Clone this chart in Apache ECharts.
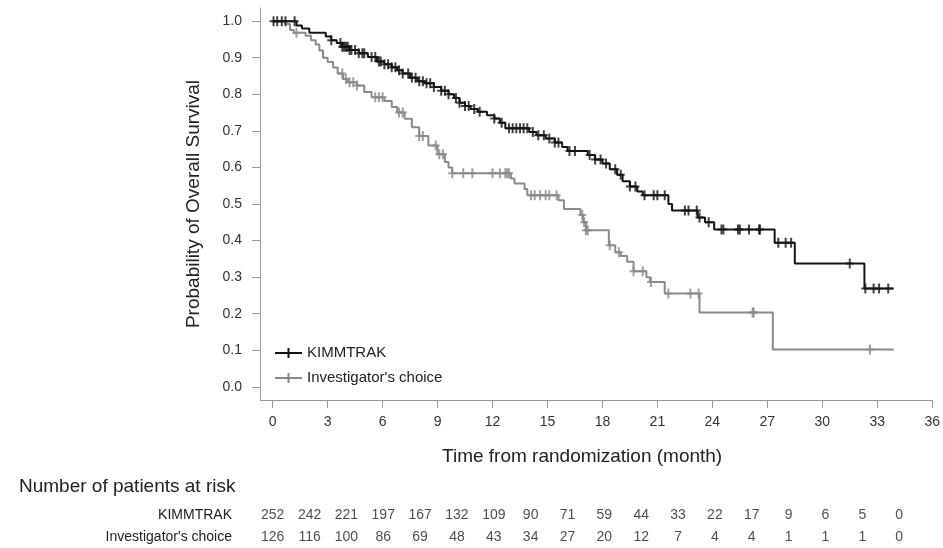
<!DOCTYPE html>
<html>
<head>
<meta charset="utf-8">
<script src="https://cdn.jsdelivr.net/npm/echarts@6/dist/echarts.min.js"></script>
<style>html,body{margin:0;padding:0;background:#fff}#c{width:943px;height:548px}</style>
</head>
<body>
<div id="c"></div>
<script>
// Kaplan-Meier step points (time in months, survival after the step)
const kimTime = [0, 1.3, 1.6, 2.0, 2.9, 3.2, 3.5, 3.8, 4.2, 4.7, 5.2, 5.7, 6.1, 6.5, 6.8, 7.1, 7.5, 7.9, 8.3, 8.8, 9.2, 9.6, 9.9, 10.2, 10.5, 10.8, 11.2, 11.7, 12.1, 12.4, 12.7, 14.0, 14.4, 14.9, 15.4, 15.8, 16.1, 17.2, 17.6, 18.0, 18.4, 18.8, 19.1, 19.5, 19.9, 20.2, 21.6, 21.8, 23.2, 23.6, 24.1, 27.4, 28.5, 32.3, 33.9];
const kimSurv = [1.0, 0.988, 0.980, 0.968, 0.958, 0.948, 0.940, 0.930, 0.921, 0.912, 0.902, 0.890, 0.882, 0.874, 0.866, 0.857, 0.845, 0.836, 0.830, 0.820, 0.810, 0.800, 0.790, 0.777, 0.768, 0.760, 0.752, 0.743, 0.734, 0.722, 0.707, 0.697, 0.688, 0.679, 0.668, 0.656, 0.645, 0.634, 0.622, 0.611, 0.595, 0.580, 0.562, 0.548, 0.534, 0.524, 0.500, 0.482, 0.463, 0.450, 0.430, 0.394, 0.337, 0.269, 0.269];
const icTime = [0, 0.7, 0.95, 1.15, 1.8, 2.1, 2.35, 2.55, 2.75, 3.0, 3.3, 3.55, 3.85, 4.1, 4.6, 5.0, 5.4, 6.1, 6.5, 6.8, 7.2, 7.6, 8.0, 8.5, 9.0, 9.4, 9.6, 9.8, 13.0, 13.2, 13.75, 13.9, 15.6, 15.9, 16.8, 16.95, 17.1, 18.35, 18.7, 19.0, 19.35, 19.7, 20.4, 20.6, 21.4, 23.3, 27.3, 33.9];
const icSurv = [1.0, 0.992, 0.976, 0.968, 0.960, 0.948, 0.936, 0.920, 0.900, 0.888, 0.873, 0.857, 0.842, 0.833, 0.824, 0.806, 0.792, 0.782, 0.765, 0.750, 0.733, 0.710, 0.686, 0.660, 0.636, 0.615, 0.600, 0.584, 0.570, 0.556, 0.541, 0.524, 0.510, 0.486, 0.470, 0.450, 0.428, 0.387, 0.368, 0.358, 0.342, 0.316, 0.300, 0.287, 0.255, 0.203, 0.102, 0.102];
// censoring times
const kimCensor = [0.05, 0.25, 0.5, 0.7, 1.2, 3.2, 3.7, 3.8, 3.9, 4.0, 4.1, 4.2, 4.3, 4.5, 4.7, 4.9, 5.0, 5.4, 5.6, 5.8, 5.9, 6.1, 6.3, 6.5, 6.7, 6.9, 7.1, 7.4, 7.6, 7.8, 8.0, 8.2, 8.4, 8.6, 8.8, 9.2, 9.4, 9.6, 10.0, 10.2, 10.5, 10.7, 11.0, 11.3, 12.1, 12.5, 12.9, 13.1, 13.3, 13.5, 13.7, 13.9, 14.2, 14.5, 14.8, 15.1, 15.4, 15.6, 16.2, 16.5, 17.3, 17.6, 17.9, 18.2, 18.7, 19.0, 19.5, 19.8, 20.3, 20.8, 21.0, 21.4, 22.5, 22.7, 23.15, 23.3, 23.8, 24.5, 24.6, 25.4, 25.5, 26.0, 26.55, 26.6, 27.6, 28.0, 28.3, 31.5, 32.35, 32.8, 33.1, 33.6];
const icCensor = [1.3, 3.8, 4.0, 4.2, 4.4, 4.6, 5.6, 5.8, 6.0, 6.9, 7.1, 8.0, 8.2, 8.9, 9.1, 9.3, 9.8, 10.4, 10.9, 12.0, 12.4, 12.7, 12.8, 12.9, 14.1, 14.3, 14.6, 14.9, 15.1, 15.5, 16.9, 17.0, 17.1, 17.2, 18.4, 18.9, 19.7, 20.2, 20.65, 21.6, 22.8, 23.25, 26.2, 26.25, 32.6];
// number at risk
const riskTimes = [0, 2, 4, 6, 8, 10, 12, 14, 16, 18, 20, 22, 24, 26, 28, 30, 32, 34];
const kimRisk = [252, 242, 221, 197, 167, 132, 109, 90, 71, 59, 44, 33, 22, 17, 9, 6, 5, 0];
const icRisk = [126, 116, 100, 86, 69, 48, 43, 34, 27, 20, 12, 7, 4, 4, 1, 1, 1, 0];
const xTicks = [0, 3, 6, 9, 12, 15, 18, 21, 24, 27, 30, 33, 36];
const yTicks = [0, 0.1, 0.2, 0.3, 0.4, 0.5, 0.6, 0.7, 0.8, 0.9, 1.0];
const groups = ['KIMMTRAK', "Investigator's choice"];

const FONT = "'Liberation Sans', Arial, sans-serif";
const BLACK = '#141414', GRAY = '#8a8a8a';
const plus = 'path://M0,4h10v2h-10z M3.75,0h2.5v10h-2.5z';
const legendIcon = 'path://M0,4h27v2h-27z M12.5,0h2v10h-2z';

function survAt(times, surv, t) {
  let s = surv[0];
  for (let i = 0; i < times.length; i++) { if (times[i] <= t) s = surv[i]; }
  return s;
}
const zip = (a, b) => a.map((v, i) => [v, b[i]]);

const chart = echarts.init(document.getElementById('c'), null, {renderer: 'canvas'});
chart.setOption({
  animation: false,
  backgroundColor: '#fff',
  textStyle: {fontFamily: FONT},
  title: {
    text: 'Number of patients at risk', left: 14, top: 472,
    textStyle: {fontSize: 19, fontWeight: 'normal', color: '#222', fontFamily: FONT}
  },
  legend: {
    orient: 'vertical', left: 270, top: 340, itemWidth: 27, itemHeight: 10, itemGap: 9,
    data: [{name: groups[0], icon: legendIcon}, {name: groups[1], icon: legendIcon}],
    textStyle: {fontSize: 15, color: '#222', fontFamily: FONT, lineHeight: 16}
  },
  grid: [
    {left: 260, right: 7, top: 8, bottom: 148, containLabel: false},
    {left: 260, right: 7, top: 504, height: 44, containLabel: false}
  ],
  xAxis: [{
    type: 'value', gridIndex: 0, min: -0.69, max: 36,
    name: 'Time from randomization (month)', nameLocation: 'middle', nameGap: 47,
    nameTextStyle: {fontSize: 19, color: '#222', fontFamily: FONT, padding: [0, 28, 0, 0]},
    axisLine: {show: true, onZero: false, lineStyle: {color: '#999', width: 1}},
    axisTick: {show: true, length: 8, customValues: xTicks, lineStyle: {color: '#999'}},
    axisLabel: {customValues: xTicks, fontSize: 14, color: '#333', margin: 15, fontFamily: FONT},
    splitLine: {show: false}
  }, {
    type: 'value', gridIndex: 1, min: -0.69, max: 36, show: false
  }],
  yAxis: [{
    type: 'value', gridIndex: 0, min: -0.036, max: 1.036,
    name: 'Probability of Overall Survival', nameLocation: 'middle', nameGap: 57,
    nameTextStyle: {fontSize: 19, color: '#222', fontFamily: FONT},
    axisLine: {show: true, onZero: false, lineStyle: {color: '#999', width: 1}},
    axisTick: {show: true, length: 8, customValues: yTicks, lineStyle: {color: '#999'}},
    axisLabel: {customValues: yTicks, fontSize: 14, color: '#333', margin: 18, fontFamily: FONT,
      formatter: v => v.toFixed(1)},
    splitLine: {show: false}
  }, {
    type: 'category', gridIndex: 1, data: groups, inverse: true,
    axisLine: {show: false}, axisTick: {show: false}, splitLine: {show: false},
    axisLabel: {fontSize: 14, color: '#222', margin: 28, fontFamily: FONT}
  }],
  series: [
    {
      name: groups[0], type: 'line', step: 'end', xAxisIndex: 0, yAxisIndex: 0,
      data: zip(kimTime, kimSurv), showSymbol: false, symbol: 'none',
      lineStyle: {color: BLACK, width: 2}, itemStyle: {color: BLACK}, z: 3
    },
    {
      name: groups[1], type: 'line', step: 'end', xAxisIndex: 0, yAxisIndex: 0,
      data: zip(icTime, icSurv), showSymbol: false, symbol: 'none',
      lineStyle: {color: GRAY, width: 2}, itemStyle: {color: GRAY}, z: 2
    },
    {
      name: groups[0] + ' censored', type: 'scatter', xAxisIndex: 0, yAxisIndex: 0,
      data: kimCensor.map(t => [t, survAt(kimTime, kimSurv, t)]),
      symbol: plus, symbolSize: [8, 10], itemStyle: {color: BLACK}, z: 4, silent: true
    },
    {
      name: groups[1] + ' censored', type: 'scatter', xAxisIndex: 0, yAxisIndex: 0,
      data: icCensor.map(t => [t, survAt(icTime, icSurv, t)]),
      symbol: plus, symbolSize: [8, 10], itemStyle: {color: GRAY}, z: 3, silent: true
    },
    {
      name: 'risk', type: 'scatter', xAxisIndex: 1, yAxisIndex: 1,
      data: riskTimes.map((t, i) => [t, groups[0], kimRisk[i]])
        .concat(riskTimes.map((t, i) => [t, groups[1], icRisk[i]])),
      symbolSize: 1, itemStyle: {color: 'transparent'}, silent: true,
      label: {show: true, position: 'inside', formatter: p => String(p.value[2]),
        fontSize: 14, color: '#222', fontFamily: FONT}
    }
  ]
});
</script>
</body>
</html>
